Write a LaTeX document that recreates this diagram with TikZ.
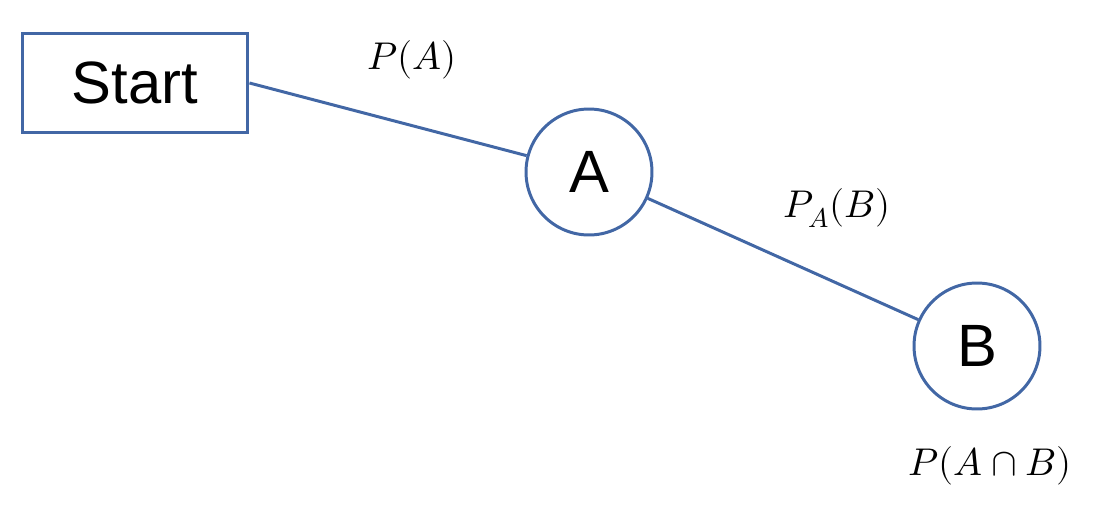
\documentclass[tikz,border=0pt]{standalone}
\usepackage{fontspec}
\setmainfont{Liberation Sans}
\usepackage{unicode-math}
\setmathfont{Latin Modern Math}
\definecolor{ln}{HTML}{4267A5}
\begin{document}
\begin{tikzpicture}[x=0.02cm,y=-0.02cm,
  box/.style={draw=ln,line width=1.7pt,minimum width=4.52cm,minimum height=2cm,inner sep=0pt,font=\fontsize{34}{40}\selectfont},
  st/.style={draw=ln,line width=1.7pt,circle,minimum size=2.52cm,inner sep=0pt,font=\fontsize{34}{40}\selectfont},
  lab/.style={font=\fontsize{22}{26}\selectfont},
  con/.style={draw=ln,line width=1.7pt}]
\useasboundingbox (0,0) rectangle (1100,514);
\node[box] (start) at (135,83) {Start};
\node[st] (A) at (589,172) {A};
\node[st] (B) at (977,346) {B};
\draw[con] (start.east) -- (A);
\draw[con] (A) -- (B);
\node[lab] (l1) at (412,60) {$P(A)$};
\node[lab] (l2) at (837,208) {$P_A(B)$};
\node[lab] (l3) at (990,466) {$P(A\cap B)$};
\end{tikzpicture}
\end{document}
